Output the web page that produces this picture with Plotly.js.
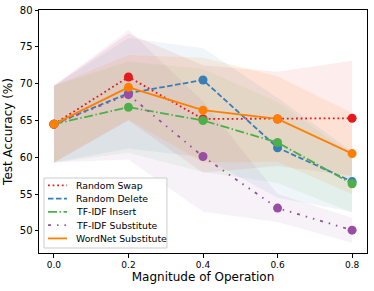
<!DOCTYPE html>
<html><head><meta charset="utf-8">
<script src="https://cdn.plot.ly/plotly-3.0.1.min.js"></script>
<style>html,body{margin:0;padding:0;background:#fff}#c{width:374px;height:291px}</style>
</head><body><div id="c"></div>
<script>
const magnitudes = [0.0, 0.2, 0.4, 0.6, 0.8];
const seriesNames = ["Random Swap", "Random Delete", "TF-IDF Insert", "TF-IDF Substitute", "WordNet Substitute"];
const randomSwap      = [64.5, 70.9, 65.2, 65.2, 65.3];
const randomDelete    = [64.5, 68.7, 70.5, 61.3, 56.7];
const tfidfInsert     = [64.5, 66.8, 65.0, 62.0, 56.4];
const tfidfSubstitute = [64.5, 68.5, 60.1, 53.1, 50.1];
const wordnetSubst    = [64.5, 69.5, 66.4, 65.2, 60.5];
const randomSwapUpper      = [69.7, 76.8, 72.5, 71.6, 73.1];
const randomSwapLower      = [59.3, 65.0, 57.9, 58.8, 57.5];
const randomDeleteUpper    = [69.7, 76.2, 74.8, 68.1, 60.8];
const randomDeleteLower    = [59.3, 61.2, 60.0, 54.5, 52.6];
const tfidfInsertUpper     = [69.7, 73.0, 72.0, 67.5, 60.3];
const tfidfInsertLower     = [59.3, 60.6, 58.0, 56.5, 52.5];
const tfidfSubstituteUpper = [69.7, 77.3, 67.6, 55.0, 51.8];
const tfidfSubstituteLower = [59.3, 59.7, 52.6, 51.2, 48.4];
const wordnetSubstUpper    = [69.7, 73.9, 73.5, 71.0, 66.0];
const wordnetSubstLower    = [59.3, 65.1, 59.3, 59.4, 55.0];
const xTickLabels = ["0.0", "0.2", "0.4", "0.6", "0.8"];
const yTickValues = [50, 55, 60, 65, 70, 75, 80];

const means = [randomSwap, randomDelete, tfidfInsert, tfidfSubstitute, wordnetSubst];
const uppers = [randomSwapUpper, randomDeleteUpper, tfidfInsertUpper, tfidfSubstituteUpper, wordnetSubstUpper];
const lowers = [randomSwapLower, randomDeleteLower, tfidfInsertLower, tfidfSubstituteLower, wordnetSubstLower];
const colors = ["#e41a1c", "#377eb8", "#4daf4a", "#984ea3", "#ff7f00"];
const fills = ["rgba(228,26,28,0.08)", "rgba(55,126,184,0.08)", "rgba(77,175,74,0.08)", "rgba(152,78,163,0.08)", "rgba(255,127,0,0.1)"];
const dashes = ["1.8px,2.8px", "5.5px,2.5px", "9px,2.5px,1.5px,2.5px", "3px,6px,1.5px,6px,1.5px,6px", "solid"];

const traces = [];
for (let i = 0; i < 5; i++) {
  traces.push({x: magnitudes, y: lowers[i], mode: "lines", line: {width: 0, color: colors[i]}, showlegend: false, hoverinfo: "skip"});
  traces.push({x: magnitudes, y: uppers[i], mode: "lines", line: {width: 0, color: colors[i]}, fill: "tonexty", fillcolor: fills[i], showlegend: false, hoverinfo: "skip"});
}
for (let i = 0; i < 5; i++) {
  traces.push({x: magnitudes, y: means[i], mode: "lines", name: seriesNames[i], showlegend: false, line: {color: colors[i], width: 1.8, dash: dashes[i]}});
  traces.push({x: magnitudes, y: means[i], mode: "markers", showlegend: false, marker: {color: colors[i], size: 9}});
}

// custom legend (matplotlib style) built from series names/colors
const shapes = [{type: "rect", xref: "paper", yref: "paper", x0: 0.0152, x1: 0.390, y0: 0.0206, y1: 0.3086,
  fillcolor: "rgba(255,255,255,0.8)", line: {color: "#cccccc", width: 1}, layer: "above"}];
const annotations = [];
const rowY = [0.278, 0.224, 0.169, 0.115, 0.060];
for (let i = 0; i < 5; i++) {
  shapes.push({type: "line", xref: "paper", yref: "paper", x0: 0.0274, x1: 0.0854, y0: rowY[i], y1: rowY[i],
    line: {color: colors[i], width: 1.8, dash: dashes[i]}, layer: "above"});
  annotations.push({xref: "paper", yref: "paper", x: 0.1067, y: rowY[i], xanchor: "left", yanchor: "middle",
    text: seriesNames[i], showarrow: false, font: {size: 9.3, color: "#000"}});
}

const layout = {
  width: 374, height: 291,
  margin: {l: 39, r: 7, t: 10, b: 38},
  paper_bgcolor: "#fff", plot_bgcolor: "#fff",
  font: {family: "DejaVu Sans", size: 10, color: "#000"},
  showlegend: false,
  shapes: shapes, annotations: annotations,
  xaxis: {range: [-0.04, 0.84], tickvals: magnitudes, ticktext: xTickLabels, ticks: "outside", ticklen: 3.5, tickcolor: "#000",
          showline: true, linecolor: "#000", linewidth: 1, mirror: true, showgrid: false, zeroline: false,
          tickfont: {size: 9}, title: {text: "Magnitude of Operation", font: {size: 12}, standoff: 0}},
  yaxis: {range: [47, 80], tickvals: yTickValues, ticks: "outside", ticklen: 3.5, tickcolor: "#000",
          showline: true, linecolor: "#000", linewidth: 1, mirror: true, showgrid: false, zeroline: false,
          tickfont: {size: 10}, title: {text: "Test Accuracy (%)", font: {size: 12}, standoff: 4}}
};
Plotly.newPlot("c", traces, layout, {displayModeBar: false, staticPlot: true});
</script></body></html>
